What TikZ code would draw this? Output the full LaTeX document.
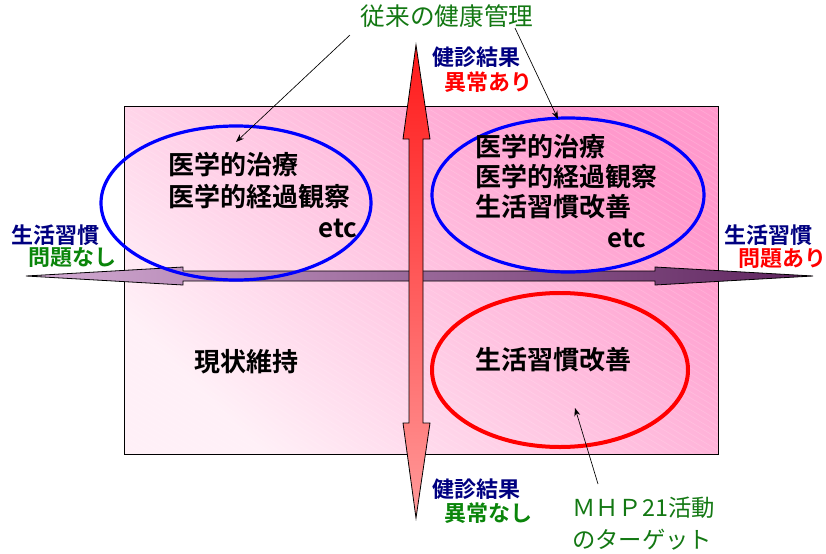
\documentclass[tikz,border=0pt]{standalone}
\usepackage{fontspec}
\newfontfamily\jp[BoldFont={Noto Sans CJK JP Bold}]{Noto Sans CJK JP}
\usetikzlibrary{arrows.meta}
\definecolor{navytext}{HTML}{000080}
\definecolor{oktext}{HTML}{0A850A}
\definecolor{titlegreen}{HTML}{137813}
\definecolor{boxlight}{HTML}{FFF0F7}
\definecolor{boxdark}{HTML}{FF99CC}
\definecolor{lifelight}{HTML}{D4ACD4}
\definecolor{lifedark}{HTML}{5E245E}
\definecolor{checktop}{HTML}{FF1A1A}
\definecolor{checkbot}{HTML}{FF9A9A}
\begin{document}
\begin{tikzpicture}[x=0.75pt,y=-0.75pt,>={Stealth[length=6pt,width=4.5pt]},
  every node/.style={inner sep=0pt},
  side/.style={font=\jp\bfseries\fontsize{16.5}{18}\selectfont},
  care/.style={font=\jp\bfseries\fontsize{19.5}{22}\selectfont,anchor=west},
  note/.style={font=\jp\fontsize{17.5}{19}\selectfont,text=titlegreen}]
\useasboundingbox (0,0) rectangle (826,554);
% background box
\shade[left color=boxlight,right color=boxdark,shading angle=135](124,106) rectangle (718,454);
\begin{scope}
\clip (124,106) rectangle (718,454);
\foreach \i in {-60,...,62}
  \draw[white,opacity=.18,line width=.4pt](124+\i*10,106)--++(600,360);
\end{scope}
\draw (124,106) rectangle (718,454);
% life style axis
\shadedraw[left color=lifelight,right color=lifedark,line width=.6pt]
  (26,276)--(183,267)--(183,271)--(655,271)--(655,267)--(813,276)
  --(655,285)--(655,281)--(183,281)--(183,285)--cycle;
% check result axis
\shadedraw[top color=checktop,bottom color=checkbot,line width=.6pt]
  (416,45)--(430,139)--(423,139)--(423,423)--(430,423)--(416,518)
  --(403,423)--(409,423)--(409,139)--(403,139)--cycle;
% ellipses
\draw[blue,line width=2.4pt](236,203) ellipse [x radius=135,y radius=77];
\draw[blue,line width=2.4pt](568,195) ellipse [x radius=136,y radius=77];
\draw[red,line width=3pt](560,370) ellipse [x radius=128,y radius=77];
% texts in the box
\node[care] (cureL) at (168,165) {医学的治療};
\node[care] (watchL) at (168,197) {医学的経過観察};
\node[care] (etcL) at (318,228) {etc};
\node[care] (cureR) at (475,147) {医学的治療};
\node[care] (watchR) at (475,177) {医学的経過観察};
\node[care] (lifeR) at (475,207) {生活習慣改善};
\node[care] (etcR) at (607,238) {etc};
\node[care] (keep) at (194,362) {現状維持};
\node[care] (lifeLow) at (475,360) {生活習慣改善};
% axis labels
\node[side,text=navytext] (chkTop) at (476,57) {健診結果};
\node[side,text=red] (badTop) at (488,82) {異常あり};
\node[side,text=navytext] (chkBot) at (476,489) {健診結果};
\node[side,text=oktext] (okBot) at (488,513) {異常なし};
\node[side,text=navytext] (habL) at (56,235) {生活習慣};
\node[side,text=oktext] (okL) at (72,258) {問題なし};
\node[side,text=navytext] (habR) at (768,235) {生活習慣};
\node[side,text=red] (badR) at (782,259) {問題あり};
% notes
\node[note,font=\jp\fontsize{18.5}{20}\selectfont] (old) at (447,16) {従来の健康管理};
\node[note,anchor=west] (mhp) at (572,508) {ＭＨＰ21活動};
\node[note,anchor=west] (target) at (572,540) {のターゲット};
\coordinate (oldL) at (350,35);
\coordinate (oldR) at (515,28);
\coordinate (mhpTop) at (598,484);
\coordinate (tipL) at (236,142);
\coordinate (tipR) at (558,119);
\coordinate (tipM) at (575,408);
\draw[->,line width=.5pt](oldL)--(tipL);
\draw[->,line width=.5pt](oldR)--(tipR);
\draw[->,line width=.5pt](mhpTop)--(tipM);
\end{tikzpicture}
\end{document}
